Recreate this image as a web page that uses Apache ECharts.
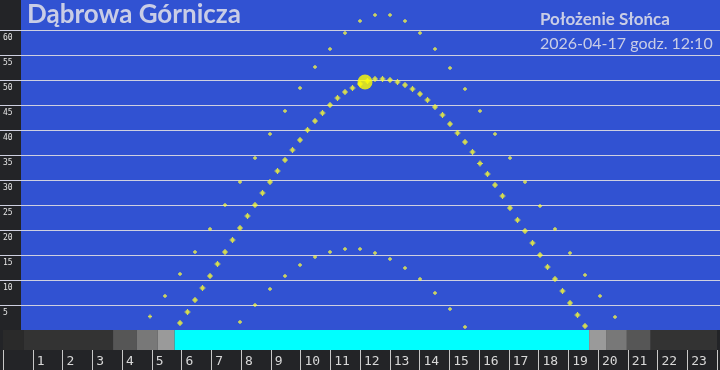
<!DOCTYPE html>
<html><head><meta charset="utf-8">
<script src="https://cdn.jsdelivr.net/npm/echarts@6/dist/echarts.min.js"></script>
<style>html,body{margin:0;padding:0;background:#232427;}#c{width:720px;height:370px;}</style>
</head><body><div id="c"></div>
<script>
// Today's sun path (every 15 min)
const todayHours = [6,6.25,6.5,6.75,7,7.25,7.5,7.75,8,8.25,8.5,8.75,9,9.25,9.5,9.75,10,10.25,10.5,10.75,11,11.25,11.5,11.75,12,12.25,12.5,12.75,13,13.25,13.5,13.75,14,14.25,14.5,14.75,15,15.25,15.5,15.75,16,16.25,16.5,16.75,17,17.25,17.5,17.75,18,18.25,18.5,18.75,19,19.25,19.5];
const todayElev = [1.4,3.6,6.0,8.4,10.8,13.2,15.6,18.0,20.4,22.8,25.0,27.4,29.6,31.8,34.0,36.0,38.0,40.0,41.8,43.4,45.0,46.4,47.6,48.4,49.2,49.8,50.2,50.2,50.0,49.6,49.0,48.2,47.2,46.0,44.6,43.0,41.2,39.4,37.6,35.6,33.3,31.2,29.0,26.8,24.4,22.0,19.8,17.4,15.0,12.6,10.2,7.8,5.4,3.0,0.8];
// Summer solstice path (every 30 min)
const summerHours = [5,5.5,6,6.5,7,7.5,8,8.5,9,9.5,10,10.5,11,11.5,12,12.5,13,13.5,14,14.5,15,15.5,16,16.5,17,17.5,18,18.5,19,19.5,20,20.5];
const summerElev = [2.7,6.8,11.2,15.6,20.2,25.0,29.6,34.4,39.2,43.8,48.4,52.6,56.2,59.4,61.8,63.0,63.0,61.8,59.4,56.2,52.4,48.2,43.8,39.2,34.4,29.6,24.8,20.2,15.4,11.0,6.8,2.6];
// Winter solstice path (every 30 min)
const winterHours = [8,8.5,9,9.5,10,10.5,11,11.5,12,12.5,13,13.5,14,14.5,15,15.5];
const winterElev = [1.6,5.0,8.2,10.8,13.0,14.6,15.6,16.2,16.2,15.4,14.2,12.4,10.2,7.4,4.2,0.6];
// Current sun position
const nowHour = 12 + 10/60;
const nowElev = 49.6;
// Twilight bands (hours)
const bandEdges = [0,0.7,3.7,4.5,5.2,5.77,19.7,20.27,20.97,21.77,24];
const bandColors = ['#2a2a2a','#333333','#565656','#787878','#9a9a9a','#00ffff','#9a9a9a','#787878','#565656','#333333'];
// Axis ticks
const elevTicks = [5,10,15,20,25,30,35,40,45,50,55,60];
const hourLabels = ['1','2','3','4','5','6','7','8','9','10','11','12','13','14','15','16','17','18','19','20','21','22','23'];
const titleText = 'Dąbrowa Górnicza';
const subTitle = 'Położenie Słońca';
const dateText = '2026-04-17 godz. 12:10';

const zip = (a,b) => a.map((v,i)=>[v,b[i]]);
const plus = 'path://M1,0H2V1H3V2H2V3H1V2H0V1H1Z';
const bigPlus = 'path://M2,0H3V1H4V2H5V3H4V4H3V5H2V4H1V3H0V2H1V1H2Z';

const chart = echarts.init(document.getElementById('c'), null, {renderer:'canvas'});
const bands = [];
for (let i=0;i<bandColors.length;i++){
  bands.push([{xAxis: bandEdges[i], itemStyle:{color: bandColors[i]}}, {xAxis: bandEdges[i+1]}]);
}
chart.setOption({
  backgroundColor: '#232427',
  animation: false,
  graphic: [
    {type:'rect', left:21, top:0, shape:{width:699, height:330}, style:{fill:'#3152d2'}, z:-10, silent:true},
    {type:'text', left:27, top:2, z:10, style:{text:titleText, fill:'#c9cde6', font:'bold 26px Lato'}},
    {type:'text', left:540, top:11, z:10, style:{text:subTitle, fill:'#c9cde6', font:'bold 17px Lato'}},
    {type:'text', left:540, top:36, z:10, style:{text:dateText, fill:'#c9cde6', font:'16px Lato'}}
  ],
  grid: [
    {left:0, right:0, top:5, height:325},
    {left:0, right:0, top:330, height:20}
  ],
  xAxis: [
    {gridIndex:0, type:'value', min:0, max:24, show:false},
    {gridIndex:1, type:'value', min:0, max:24, interval:1, position:'bottom',
     axisLine:{show:false},
     axisTick:{show:true, length:20, lineStyle:{color:'#c8c8c8', width:1}},
     splitLine:{show:false},
     axisLabel:{show:true, color:'#d8d8d8', fontFamily:'DejaVu Sans Mono', fontSize:13, align:'left', padding:[0,0,0,4], margin:5,
       formatter: v => (v>=1 && v<=23) ? hourLabels[v-1] : ''}}
  ],
  yAxis: [
    {gridIndex:0, type:'value', min:0, max:65, interval:5,
     axisLine:{show:false}, axisTick:{show:false},
     splitLine:{show:true, showMinLine:false, showMaxLine:false, lineStyle:{color:'#cfd0e0', width:1}},
     axisLabel:{show:true, inside:true, margin:3, color:'#e6e6e6', fontFamily:'DejaVu Sans Mono', fontSize:8, verticalAlign:'top', padding:[4,0,0,0],
       formatter: v => elevTicks.indexOf(v) >= 0 ? String(v) : ''}},
    {gridIndex:1, type:'value', min:0, max:1, show:false}
  ],
  series: [
    {type:'line', xAxisIndex:1, yAxisIndex:1, data:[[0,0.5]], symbol:'none', lineStyle:{opacity:0}, silent:true,
     markArea:{silent:true, data:bands}},
    {type:'scatter', xAxisIndex:0, yAxisIndex:0, data: zip(summerHours, summerElev), symbol: plus, symbolSize:4, itemStyle:{color:'#ffff3c'}, z:3},
    {type:'scatter', xAxisIndex:0, yAxisIndex:0, data: zip(winterHours, winterElev), symbol: plus, symbolSize:4, itemStyle:{color:'#ffff3c'}, z:3},
    {type:'scatter', xAxisIndex:0, yAxisIndex:0, data: zip(todayHours, todayElev), symbol: bigPlus, symbolSize:6, itemStyle:{color:'#ffff30'}, z:4},
    {type:'scatter', xAxisIndex:0, yAxisIndex:0, data: [[nowHour, nowElev]], symbol:'circle', symbolSize:15, itemStyle:{color:'#ffff00'}, z:5}
  ]
});
</script></body></html>
